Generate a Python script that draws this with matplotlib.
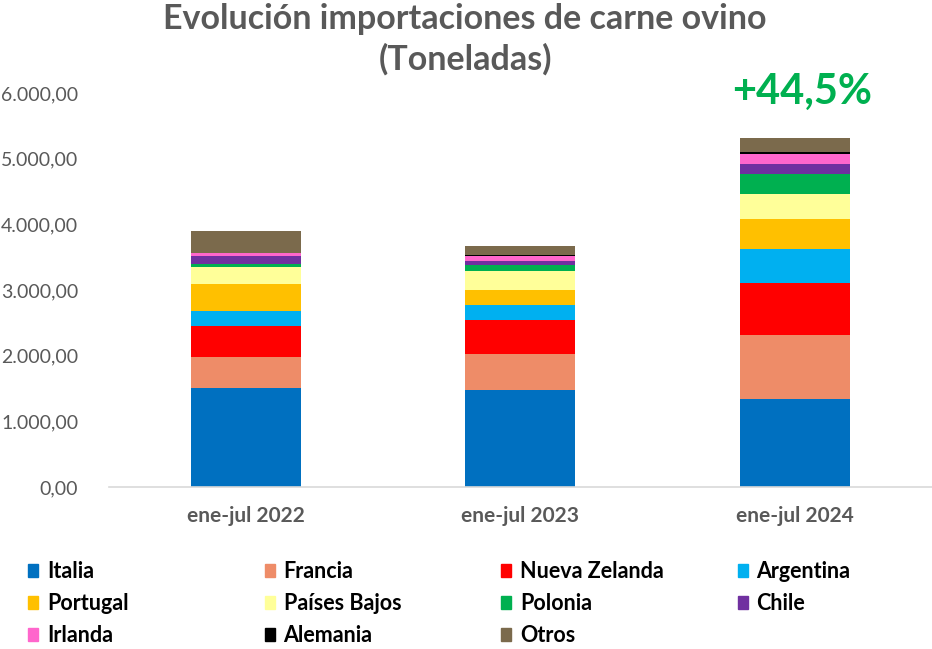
import numpy as np
import matplotlib.pyplot as plt
import matplotlib.patches as mpatches

plt.rcParams['font.family'] = ['Lato', 'DejaVu Sans']

periodos = ['ene-jul 2022', 'ene-jul 2023', 'ene-jul 2024']
paises = ['Italia', 'Francia', 'Nueva Zelanda', 'Argentina', 'Portugal',
          'Países Bajos', 'Polonia', 'Chile', 'Irlanda', 'Alemania', 'Otros']
colores = ['#0070C0', '#EE8C68', '#FF0000', '#00B0F0', '#FFC000',
           '#FFFF99', '#00B050', '#7030A0', '#FF66CC', '#000000', '#7B6A4C']

# toneladas por pais y periodo
italia = [1512, 1473, 1335]
francia = [467, 548, 979]
nueva_zelanda = [467, 523, 796]
argentina = [233, 233, 508]
portugal = [416, 224, 466]
paises_bajos = [254, 289, 371]
polonia = [50, 87, 305]
chile = [122, 66, 161]
irlanda = [37, 68, 143]
alemania = [5, 20, 35]
otros = [329, 142, 209]

series = [italia, francia, nueva_zelanda, argentina, portugal, paises_bajos,
          polonia, chile, irlanda, alemania, otros]

gris = '#595959'

fig = plt.figure(figsize=(9.32, 6.49), dpi=100)
ax = fig.add_axes([108.75 / 932, 1 - 487 / 649, 1 - 108.75 / 932, 394 / 649])

x = np.arange(len(periodos))
base = np.zeros(len(periodos))
for valores, color in zip(series, colores):
    ax.bar(x, valores, width=0.40, bottom=base, color=color, edgecolor='none')
    base = base + np.array(valores)

ax.set_xlim(-0.5, 2.5)
ax.set_ylim(0, 6000)
ax.set_yticks(np.arange(0, 6001, 1000))
ax.set_yticklabels([f'{v:,.2f}'.replace(',', 'X').replace('.', ',').replace('X', '.')
                    for v in np.arange(0, 6001, 1000)])
ax.set_xticks(x)
ax.set_xticklabels(periodos, fontweight='bold')
ax.tick_params(axis='y', length=0, pad=22, labelsize=14, labelcolor=gris)
ax.tick_params(axis='x', length=0, pad=14, labelsize=15, labelcolor=gris)
for lado in ['top', 'right', 'left']:
    ax.spines[lado].set_visible(False)
ax.spines['bottom'].set_color('#D9D9D9')
ax.spines['bottom'].set_linewidth(1.2)

fig.text(465 / 932, 1 - 39 / 649, 'Evolución importaciones de carne ovino\n(Toneladas)',
         ha='center', va='center', fontsize=24.5, fontweight='bold', color=gris,
         linespacing=1.3)

cambio = (base[2] / base[1] - 1) * 100
fig.text(802 / 932, 1 - 92 / 649, f'+{cambio:.1f}%'.replace('.', ','),
         ha='center', va='center', fontsize=30, fontweight='bold', color='#00B050')

# leyenda manual en filas de 4
for i, (nombre, color) in enumerate(zip(paises, colores)):
    fila, col = divmod(i, 4)
    xm = 28 + col * 236.5
    ym = 571 + fila * 32
    fig.patches.append(mpatches.Rectangle((xm / 932, 1 - (ym + 6) / 649), 10 / 932, 13 / 649,
                                          transform=fig.transFigure, color=color))
    fig.text((xm + 19) / 932, 1 - ym / 649, nombre, ha='left', va='center',
             fontsize=15.5, fontweight='bold', color='black')

fig.savefig('out.png', dpi=100)
